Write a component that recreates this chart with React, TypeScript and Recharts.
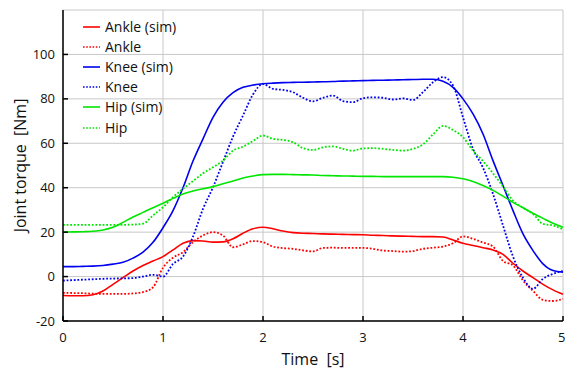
import { LineChart, Line, XAxis, YAxis, CartesianGrid, Legend } from 'recharts';

const time = [
  0, 0.1, 0.2, 0.3, 0.4, 0.5, 0.6, 0.7, 0.8, 0.9, 1, 1.1, 1.2, 1.3, 1.4, 1.5, 1.6, 1.7, 1.8, 1.9, 2, 2.1, 2.2, 2.3, 2.4,
  2.5, 2.6, 2.7, 2.8, 2.9, 3, 3.1, 3.2, 3.3, 3.4, 3.5, 3.6, 3.7, 3.8, 3.9, 4, 4.1, 4.2, 4.3, 4.4, 4.5, 4.6, 4.7, 4.8,
  4.9, 5,
];

const ankleSim = [
  -8.5, -8.6, -8.6, -8.2, -6.5, -3.5, -0.5, 2.5, 5, 7, 9, 12, 15, 16.2, 16, 15.5, 15.6, 17, 19.5, 21.5, 22.2, 21.5, 20.5,
  19.8, 19.5, 19.4, 19.2, 19.1, 19, 18.9, 18.8, 18.6, 18.5, 18.3, 18.2, 18.1, 18, 18, 17.8, 16.5, 15, 14, 13, 12, 10, 6,
  2.5, -0.5, -3.5, -6, -8,
];
const ankleExp = [
  -7.3, -7.4, -7.5, -7.7, -7.8, -7.8, -7.8, -7.6, -7, -4.8, 4, 8.5, 11, 15.5, 18.5, 20, 18.5, 13.2, 14.5, 16, 15.5, 13.5,
  12.8, 12.5, 11.8, 11.3, 12.9, 13, 12.9, 12.9, 12.9, 12.5, 11.7, 11.5, 11.2, 11.5, 12.5, 13, 13.5, 15, 18.1, 17, 15.3,
  13.5, 7, 5, -1.8, -6.5, -10.5, -11, -10,
];
const kneeSim = [
  4.5, 4.5, 4.6, 4.7, 5, 5.6, 6.4, 8.3, 11, 15.4, 22, 29.7, 40, 52, 62, 71.7, 78.5, 82.8, 85.2, 86.2, 86.8, 87.1, 87.3,
  87.4, 87.5, 87.6, 87.7, 87.8, 88, 88.1, 88.2, 88.3, 88.4, 88.5, 88.6, 88.7, 88.8, 88.8, 87.9, 85.2, 80, 73.2, 64.2,
  52.2, 41, 29.7, 19.2, 11.7, 5.7, 2.7, 2,
];
const kneeExp = [
  -1.8, -1.6, -1.4, -1.2, -1, -0.9, -0.8, -0.7, 0, 0.8, 0, 5.7, 9, 18, 30.5, 40.2, 51.6, 63, 72.5, 82, 86.7, 84.5, 84,
  83, 80.5, 78.9, 80.5, 81.5, 79, 78.5, 80.3, 80.7, 80.5, 79.7, 80.2, 79.5, 83, 87.5, 89.8, 86, 71.7, 57.5, 49, 37.2, 23,
  9, -0.5, -5.5, -1, 1.2, 2.5,
];
const hipSim = [
  20, 20.1, 20.2, 20.4, 21, 22.2, 24.4, 26.8, 28.9, 31, 33, 35.2, 37.2, 38.5, 39.5, 40.5, 41.8, 43, 44.4, 45.3, 45.9, 46,
  46, 45.9, 45.8, 45.7, 45.5, 45.4, 45.3, 45.2, 45.1, 45.1, 45, 45, 45, 45, 45, 45, 45, 44.7, 44, 42.8, 41, 38.8, 36.2,
  33.4, 31, 28.5, 26.2, 24, 22.2,
];
const hipExp = [
  23.3, 23.3, 23.3, 23.3, 23.3, 23.3, 23.3, 23.4, 23.8, 27.5, 31.2, 35.7, 39.5, 43, 46.5, 49.2, 52.2, 56.7, 58.5, 61,
  63.5, 62, 61.5, 60.5, 57.8, 57, 58.2, 58.6, 57.5, 56.7, 57.7, 57.8, 57.5, 57, 56.7, 57.5, 59.5, 64, 67.8, 66, 62.7,
  56.7, 52, 46.5, 40.5, 34.2, 31, 28.2, 23.7, 23, 21.3,
];

const xTicks = [0, 1, 2, 3, 4, 5];
const yTicks = [-20, 0, 20, 40, 60, 80, 100];

const series = [
  { key: 'ankleSim', name: 'Ankle (sim)', color: '#ff0000', dotted: false },
  { key: 'ankleExp', name: 'Ankle', color: '#ff0000', dotted: true },
  { key: 'kneeSim', name: 'Knee (sim)', color: '#0000f0', dotted: false },
  { key: 'kneeExp', name: 'Knee', color: '#0000f0', dotted: true },
  { key: 'hipSim', name: 'Hip (sim)', color: '#00e600', dotted: false },
  { key: 'hipExp', name: 'Hip', color: '#00e600', dotted: true },
];

const data = time.map((t, i) => ({
  t,
  ankleSim: ankleSim[i],
  ankleExp: ankleExp[i],
  kneeSim: kneeSim[i],
  kneeExp: kneeExp[i],
  hipSim: hipSim[i],
  hipExp: hipExp[i],
}));

const FONT = '"Open Sans", sans-serif';

function TorqueLegend() {
  return (
    <div style={{ fontFamily: FONT, fontSize: 14, color: '#111' }}>
      {series.map((s) => (
        <div key={s.key} style={{ display: 'flex', alignItems: 'center', height: 20.2 }}>
          <svg width={17} height={4} style={{ display: 'block' }}>
            <line
              x1={0}
              y1={2}
              x2={17}
              y2={2}
              stroke={s.color}
              strokeWidth={1.6}
              strokeDasharray={s.dotted ? '1.6 1.6' : undefined}
            />
          </svg>
          <span style={{ marginLeft: 5, lineHeight: '20px' }}>{s.name}</span>
        </div>
      ))}
    </div>
  );
}

export default function App() {
  return (
    <div style={{ padding: '8px 0 0 8px' }}>
      {/* drop the body margin so the page stays exactly 369px tall (no scrollbar) */}
      <style>{'body { margin: 0; overflow: hidden; }'}</style>
      <LineChart width={557} height={361} data={data} margin={{ top: 2, right: 2, left: 0, bottom: 0 }}>
        <CartesianGrid stroke="#c8c8c8" strokeWidth={1} />
        <XAxis
          dataKey="t"
          type="number"
          domain={[0, 5]}
          ticks={xTicks}
          height={48}
          stroke="#000"
          strokeWidth={1.5}
          tickSize={-5}
          tickMargin={17}
          tick={{ fill: '#111', fontSize: 13, fontFamily: FONT }}
          label={{ value: 'Time\u00A0 [s]', position: 'insideBottom', offset: 4, fill: '#111', fontSize: 16, fontFamily: FONT }}
        />
        <YAxis
          type="number"
          domain={[-20, 120]}
          ticks={yTicks}
          width={55}
          stroke="#000"
          strokeWidth={1.5}
          tickSize={-5}
          tickMargin={13}
          tick={{ fill: '#111', fontSize: 13, fontFamily: FONT }}
          label={{ value: 'Joint torque\u00A0 [Nm]', angle: -90, position: 'insideLeft', offset: 12, fill: '#111', fontSize: 16, fontFamily: FONT, style: { textAnchor: 'middle' } }}
        />
        <Legend
          layout="vertical"
          align="center"
          verticalAlign="middle"
          content={<TorqueLegend />}
          wrapperStyle={{ left: 75, top: 8.6, width: 'auto', height: 'auto' }}
        />
        {series.map((s) => (
          <Line
            key={s.key}
            dataKey={s.key}
            name={s.name}
            type="monotone"
            stroke={s.color}
            strokeWidth={s.dotted ? 1.8 : 1.6}
            strokeDasharray={s.dotted ? '1.8 1.8' : undefined}
            dot={false}
            isAnimationActive={false}
          />
        ))}
      </LineChart>
    </div>
  );
}
